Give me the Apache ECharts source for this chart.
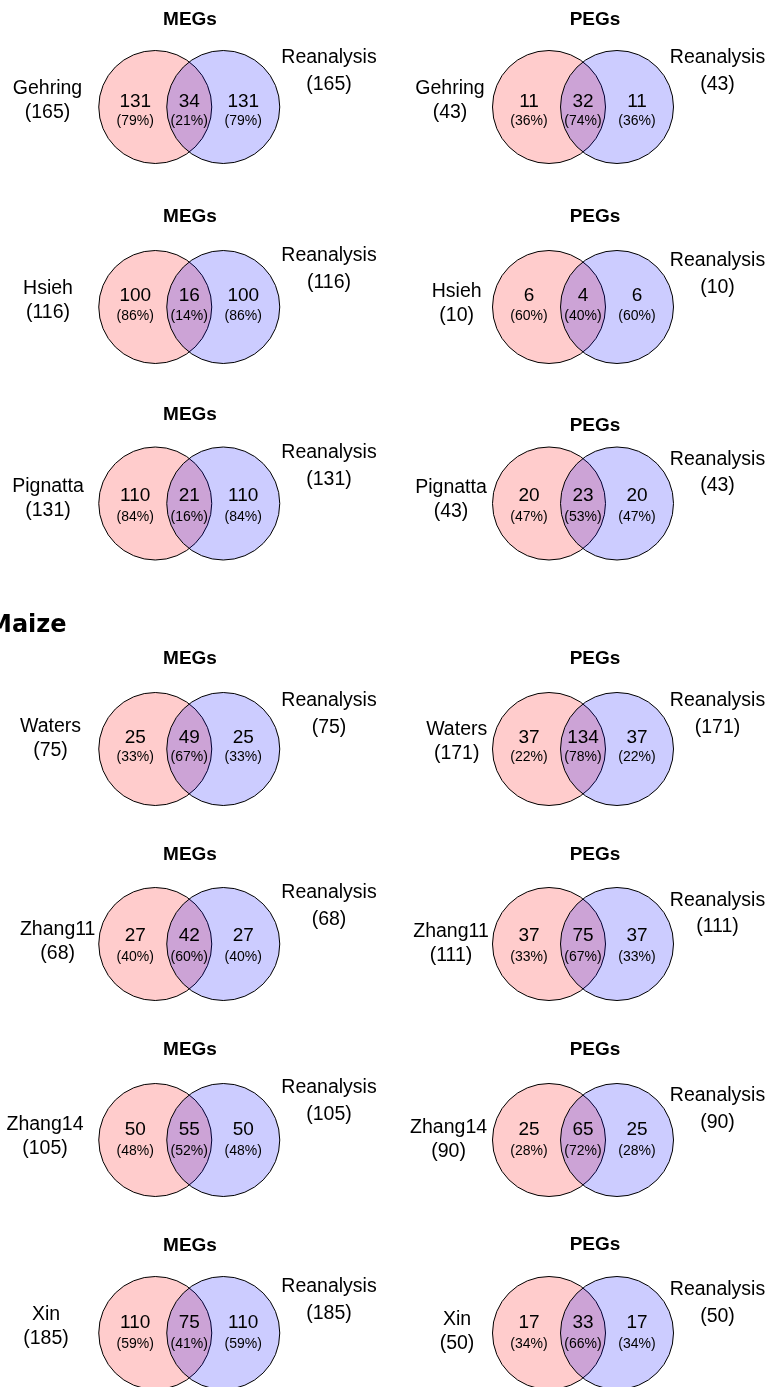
<!DOCTYPE html>
<html>
<head>
<meta charset="utf-8">
<script src="https://cdn.jsdelivr.net/npm/echarts@6/dist/echarts.min.js"></script>
<style>
  html, body { margin: 0; padding: 0; background: #ffffff; }
  #chart { width: 775px; height: 1387px; }
</style>
</head>
<body>
<div id="chart"></div>
<script>
// ---- Data: imprinted gene overlaps, published study vs. reanalysis ----
const studies = ['Gehring', 'Hsieh', 'Pignatta', 'Waters', 'Zhang11', 'Zhang14', 'Xin'];
const compareName = 'Reanalysis';
const panelTitles = ['MEGs', 'PEGs'];
const sectionTitle = 'Maize';

const megTotal     = [165, 116, 131, 75, 68, 105, 185];
const megOnly      = [131, 100, 110, 25, 27, 50, 110];
const megShared    = [34, 16, 21, 49, 42, 55, 75];
const megOnlyPct   = [79, 86, 84, 33, 40, 48, 59];
const megSharedPct = [21, 14, 16, 67, 60, 52, 41];

const pegTotal     = [43, 10, 43, 171, 111, 90, 50];
const pegOnly      = [11, 6, 20, 37, 37, 25, 17];
const pegShared    = [32, 4, 23, 134, 75, 65, 33];
const pegOnlyPct   = [36, 60, 47, 22, 33, 28, 34];
const pegSharedPct = [74, 40, 53, 78, 67, 72, 66];

// ---- Layout (pixels) ----
const rowY = [107, 307, 503.5, 749, 944, 1140, 1333];   // centre of each circle pair
const colX = [189.25, 583];
const titleX = [190, 595];
const titleY = [[20, 217, 415, 659, 855, 1050, 1246], [20, 217, 426, 659, 855, 1050, 1245]];
const leftLabelX = [[47.5, 48, 48, 50.5, 57.7, 45, 46], [450, 456.7, 451, 456.7, 451, 448.6, 457]];
const leftLabelY = [[89, 289, 486.6, 727, 930, 1125, 1315], [88.3, 291.7, 488, 730, 931.7, 1128, 1320]];
const rightLabelX = [329, 717.5];
const rightLabelY = [[58, 256, 452.7, 701, 892.7, 1088, 1286.7], [58, 261, 459.5, 701, 900.5, 1096, 1290]];
const numDy = [-5, -11, -8, -11, -8, -10, -10];
const pctDy = [14, 9, 14, 8, 13, 11, 11];

// Venn geometry in axis units (1 unit = 1 px inside each panel grid)
const RADIUS = 56.5;
const SET_OFFSET = [-34, 34];
const REGION_X = [-54, 0, 54];
const SET_FILL = ['rgba(255,0,0,0.2)', 'rgba(0,0,255,0.2)'];
const FONT = '"Liberation Sans", Arial, sans-serif';
const PANEL_W = 200, PANEL_H = 100;   // grid box around each circle pair; marks extend past it

function text(x, y, str, size, weight) {
  return {
    type: 'text', x: x, y: y, silent: true,
    style: {
      text: str, fill: '#000', fontSize: size, fontFamily: FONT,
      fontWeight: weight || 'normal', align: 'center', verticalAlign: 'middle'
    }
  };
}

const grids = [], xAxes = [], yAxes = [], series = [], graphics = [];

const panels = [
  { total: megTotal, only: megOnly, shared: megShared, onlyPct: megOnlyPct, sharedPct: megSharedPct },
  { total: pegTotal, only: pegOnly, shared: pegShared, onlyPct: pegOnlyPct, sharedPct: pegSharedPct }
];

studies.forEach(function (study, row) {
  panels.forEach(function (p, col) {
    const idx = grids.length;
    const cx = colX[col], cy = rowY[row];
    grids.push({ left: cx - PANEL_W / 2, top: cy - PANEL_H / 2, width: PANEL_W, height: PANEL_H });
    xAxes.push({ gridIndex: idx, type: 'value', min: -PANEL_W / 2, max: PANEL_W / 2, show: false });
    yAxes.push({ gridIndex: idx, type: 'value', min: -PANEL_H / 2, max: PANEL_H / 2, inverse: true, show: false });

    const labelPos = [
      { x: leftLabelX[col][row] - cx, y: leftLabelY[col][row] - cy, gap: 24 },
      { x: rightLabelX[col] - cx, y: rightLabelY[col][row] - cy, gap: 26.5 }
    ];

    // the two sets: circles plus their name/total labels
    series.push({
      type: 'custom', xAxisIndex: idx, yAxisIndex: idx, z: 2, silent: true, clip: false,
      data: [
        { name: study, value: [p.total[row]] },
        { name: compareName, value: [p.total[row]] }
      ],
      renderItem: function (params, api) {
        const i = params.dataIndex;
        const c = api.coord([SET_OFFSET[i], 0]);
        const r = api.size([RADIUS, 0])[0];
        const lp = labelPos[i];
        const l1 = api.coord([lp.x, lp.y]);
        const l2 = api.coord([lp.x, lp.y + lp.gap]);
        const name = i === 0 ? study : compareName;
        return {
          type: 'group',
          children: [
            { type: 'circle', shape: { cx: c[0], cy: c[1], r: r },
              style: { fill: SET_FILL[i], stroke: '#000', lineWidth: 1 } },
            text(l1[0], l1[1], name, 19.5),
            text(l2[0], l2[1], '(' + api.value(0) + ')', 19.5)
          ]
        };
      }
    });

    // region counts: only-in-study, shared, only-in-reanalysis
    series.push({
      type: 'custom', xAxisIndex: idx, yAxisIndex: idx, z: 3, silent: true, clip: false,
      data: [
        [p.only[row], p.onlyPct[row]],
        [p.shared[row], p.sharedPct[row]],
        [p.only[row], p.onlyPct[row]]
      ],
      renderItem: function (params, api) {
        const i = params.dataIndex;
        const n = api.coord([REGION_X[i], numDy[row]]);
        const q = api.coord([REGION_X[i], pctDy[row]]);
        return {
          type: 'group',
          children: [
            text(n[0], n[1], String(api.value(0)), 19),
            text(q[0], q[1], '(' + api.value(1) + '%)', 14)
          ]
        };
      }
    });

    graphics.push({
      type: 'text', x: titleX[col], y: titleY[col][row], silent: true,
      style: { text: panelTitles[col], fill: '#000', fontSize: 19, fontWeight: 'bold',
               fontFamily: FONT, align: 'center', verticalAlign: 'middle' }
    });
  });
});

graphics.push({
  type: 'text', x: -12, y: 626, silent: true,
  style: { text: sectionTitle, fill: '#000', fontSize: 24, fontWeight: 'bold',
           fontFamily: '"DejaVu Sans", sans-serif', align: 'left', verticalAlign: 'middle' }
});

const chart = echarts.init(document.getElementById('chart'), null, { renderer: 'canvas' });
chart.setOption({
  animation: false,
  backgroundColor: '#ffffff',
  grid: grids,
  xAxis: xAxes,
  yAxis: yAxes,
  series: series,
  graphic: graphics
});
</script>
</body>
</html>
